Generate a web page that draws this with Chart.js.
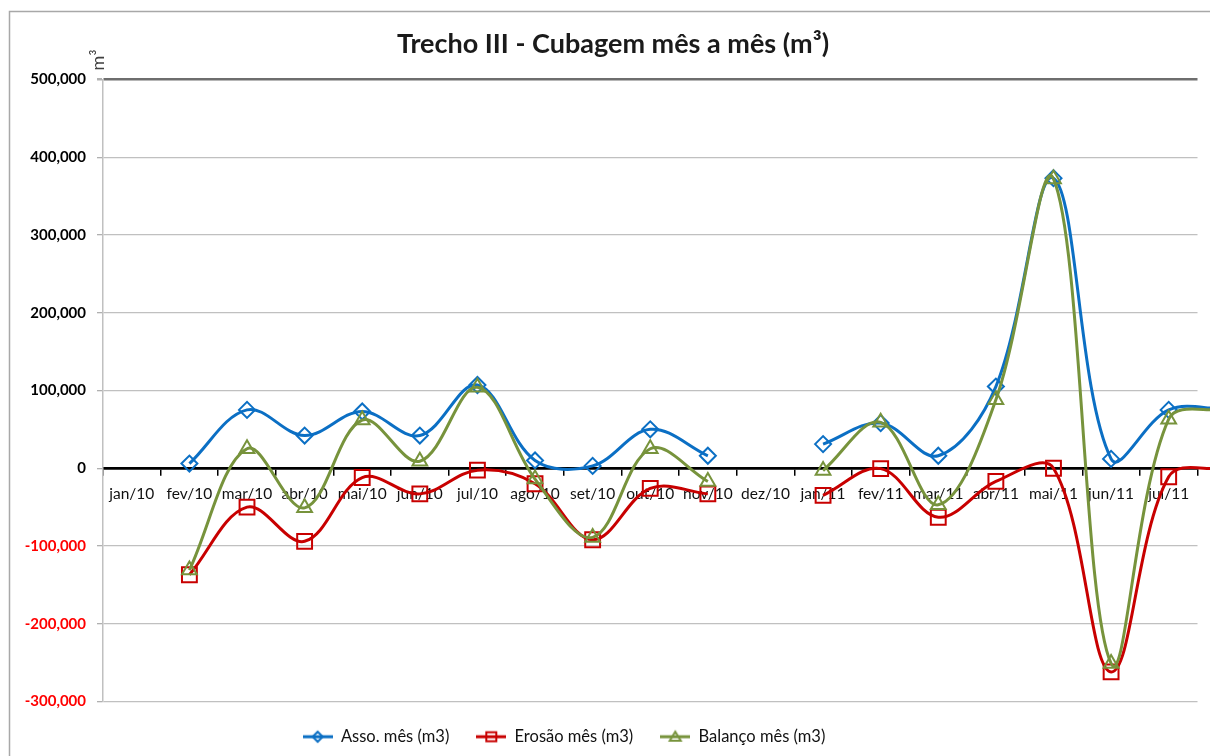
<!DOCTYPE html>
<html>
<head>
<meta charset="utf-8">
<script src="https://cdn.jsdelivr.net/npm/chart.js@4.4.1/dist/chart.umd.min.js"></script>
<style>
html,body{margin:0;padding:0;background:#fff;overflow:hidden}
#wrap{position:relative;width:1210px;height:756px}
</style>
</head>
<body>
<div id="wrap"><canvas id="c" width="1210" height="756"></canvas></div>
<script>
// ---- data ----
const categories = ['jan/10','fev/10','mar/10','abr/10','mai/10','jun/10','jul/10','ago/10','set/10','out/10','nov/10','dez/10','jan/11','fev/11','mar/11','abr/11','mai/11','jun/11','jul/11','ago/11'];
const lastVisibleCategory = 'jul/11';
const assoValues    = [null, 6000, 75000, 42000, 73000, 42000, 107000, 10000, 3000, 50000, 16000, null, 31000, 58000, 16000, 105000, 373000, 12000, 75000, 76000];
const erosaoValues  = [null, -137000, -50000, -94000, -12000, -33000, -2500, -20000, -92000, -26000, -33000, null, -35000, -500, -63000, -17000, 0, -262000, -11000, 0];
const balancoValues = [null, -131000, 25000, -51000, 62000, 9000, 104000, -14000, -89000, 25000, -17000, null, -3000, 59000, -47000, 88000, 372000, -251000, 63000, 76000];
const seriesNames = ['Asso. mês (m3)', 'Erosão mês (m3)', 'Balanço mês (m3)'];
const yMin = -300000, yMax = 500000, yStep = 100000;
const titleText = 'Trecho III - Cubagem mês a mês (m³)';
const yUnitText = 'm³';

const FONT = 'Lato, "Open Sans", sans-serif';
const BLUE = '#0B6FC4', RED = '#C80000', GREEN = '#77933C';

function legendImg(color, shape) {
  const c = document.createElement('canvas');
  c.width = 30; c.height = 16;
  const g = c.getContext('2d');
  g.strokeStyle = color; g.lineWidth = 3;
  g.beginPath(); g.moveTo(0, 8); g.lineTo(30, 8); g.stroke();
  g.lineWidth = 2;
  const cx = 15, cy = 8;
  g.beginPath();
  if (shape === 'diamond') { g.moveTo(cx, cy - 5); g.lineTo(cx + 5, cy); g.lineTo(cx, cy + 5); g.lineTo(cx - 5, cy); }
  else if (shape === 'square') { g.rect(cx - 5, cy - 4.5, 10, 9); }
  else { g.moveTo(cx, cy - 5); g.lineTo(cx + 5.5, cy + 4); g.lineTo(cx - 5.5, cy + 4); }
  g.closePath(); g.stroke();
  return c;
}
const legendImgs = [legendImg(BLUE, 'diamond'), legendImg(RED, 'square'), legendImg(GREEN, 'triangle')];

const decorPlugin = {
  id: 'decor',
  beforeDraw(chart) {
    const ctx = chart.ctx;
    ctx.save();
    ctx.fillStyle = '#fff';
    ctx.fillRect(0, 0, chart.width, chart.height);
    ctx.strokeStyle = '#A8A8A8';
    ctx.lineWidth = 1.5;
    ctx.strokeRect(9.5, 11.5, 2000, 2000);
    ctx.restore();
  },
  afterLayout(chart) {
    if (chart.legend) { chart.legend.left -= 36; chart.legend.right -= 36; }
    if (chart.titleBlock) { chart.titleBlock.left += 13; chart.titleBlock.right += 13; }
  },
  afterDraw(chart) {
    const ctx = chart.ctx;
    ctx.save();
    ctx.translate(98, 60);
    ctx.rotate(-Math.PI / 2);
    ctx.font = '18px ' + FONT;
    ctx.fillStyle = '#404040';
    ctx.textAlign = 'center';
    ctx.textBaseline = 'middle';
    ctx.fillText(yUnitText, 0, 0);
    ctx.restore();
  }
};

const common = { fill: false, borderWidth: 3, pointBorderWidth: 2, pointBackgroundColor: 'rgba(0,0,0,0)', tension: 0.36, spanGaps: false, clip: false };

new Chart(document.getElementById('c'), {
  type: 'line',
  data: {
    labels: categories,
    datasets: [
      Object.assign({ label: seriesNames[0], data: assoValues, borderColor: BLUE, pointBorderColor: BLUE, pointStyle: 'rectRot', pointRadius: 8, order: 2 }, common),
      Object.assign({ label: seriesNames[1], data: erosaoValues, borderColor: RED, pointBorderColor: RED, pointStyle: 'rect', pointRadius: 10.5, order: 1 }, common),
      Object.assign({ label: seriesNames[2], data: balancoValues, borderColor: GREEN, pointBorderColor: GREEN, pointStyle: 'triangle', pointRadius: 8.5, order: 0 }, common)
    ]
  },
  options: {
    responsive: false,
    animation: false,
    devicePixelRatio: 1,
    elements: { line: { capBezierPoints: false } },
    layout: { padding: { left: 0, right: 10, top: 0, bottom: 1 } },
    plugins: {
      tooltip: { enabled: false },
      title: {
        display: true,
        text: titleText,
        color: '#1A1A1A',
        font: { family: FONT, size: 27, weight: 'bold' },
        padding: { top: 28, bottom: 19 }
      },
      legend: {
        position: 'bottom',
        labels: {
          usePointStyle: true,
          pointStyleWidth: 30,
          padding: 27,
          color: '#111',
          font: { family: FONT, size: 16.5 },
          generateLabels(chart) {
            const items = Chart.defaults.plugins.legend.labels.generateLabels(chart);
            items.sort((a, b) => a.datasetIndex - b.datasetIndex);
            items.forEach(it => { it.pointStyle = legendImgs[it.datasetIndex]; });
            return items;
          }
        }
      }
    },
    scales: {
      x: {
        type: 'category',
        position: { y: 0 },
        offset: true,
        afterDataLimits(scale) { scale.max = categories.indexOf(lastVisibleCategory); },
        grid: { display: true, drawOnChartArea: false, drawTicks: true, tickLength: 6, color: '#000', lineWidth: 1.5, offset: true },
        border: { display: true, color: '#000', width: 2.8 },
        ticks: { color: '#111', font: { family: FONT, size: 15.5 }, padding: 10, maxRotation: 0, autoSkip: false }
      },
      y: {
        min: yMin,
        max: yMax,
        afterFit(scale) { scale.width = 103; },
        grid: {
          color: ctx => ctx.tick && ctx.tick.value === yMax ? '#6E6E6E' : (ctx.tick && ctx.tick.value === 0 ? 'rgba(0,0,0,0)' : '#C0C0C0'),
          lineWidth: ctx => ctx.tick && ctx.tick.value === yMax ? 2.5 : 1.3,
          tickColor: '#B0B0B0',
          tickLength: 6
        },
        border: { display: true, color: '#C0C0C0', width: 1.5 },
        ticks: {
          stepSize: yStep,
          padding: 11,
          color: ctx => ctx.tick && ctx.tick.value < 0 ? '#FF0000' : '#000000',
          font: { family: FONT, size: 15, weight: 'bold' },
          callback: v => Number(v).toLocaleString('en-US')
        }
      }
    }
  },
  plugins: [decorPlugin]
});
</script>
</body>
</html>
